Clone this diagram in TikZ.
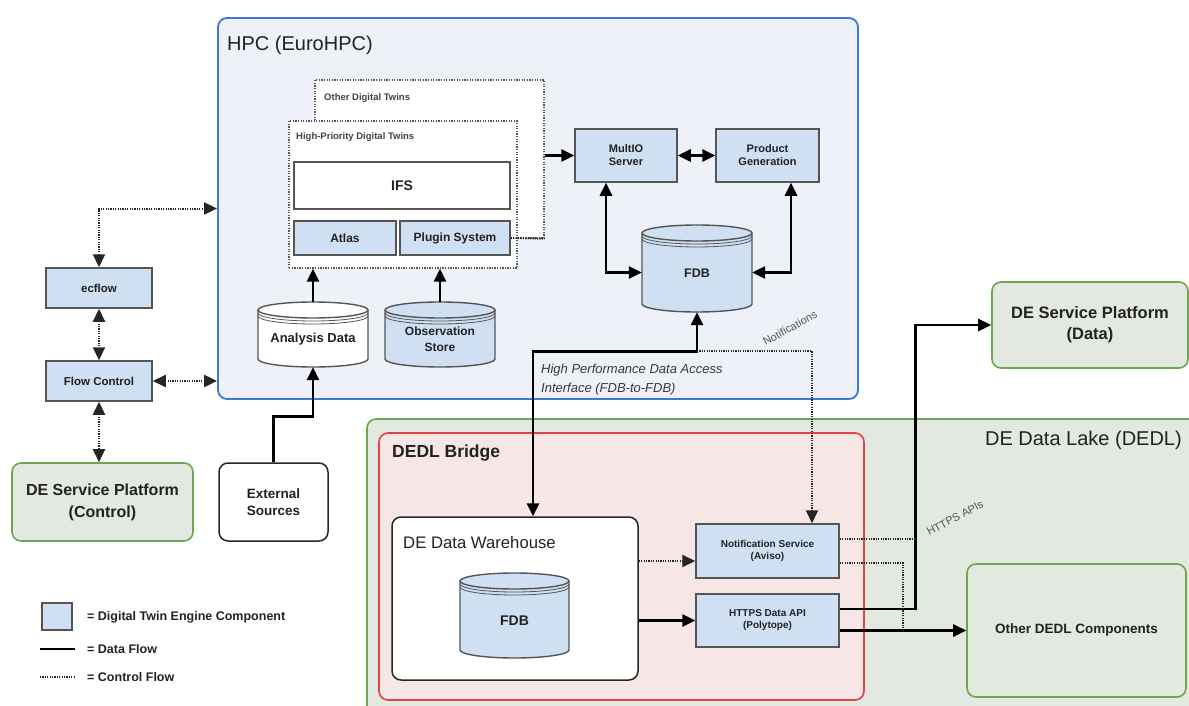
\documentclass[tikz,border=0pt]{standalone}
\usepackage{fontspec}
\setmainfont{Liberation Sans}
\usetikzlibrary{arrows.meta}
\definecolor{hpcfill}{HTML}{EEF1F8}
\definecolor{hpcline}{HTML}{3C78D8}
\definecolor{lakefill}{HTML}{E3E8E1}
\definecolor{greenline}{HTML}{6AA84F}
\definecolor{bridgefill}{HTML}{F7E6E6}
\definecolor{bridgeline}{HTML}{DD4444}
\definecolor{compfill}{HTML}{CFE0F3}
\definecolor{compline}{HTML}{555555}
\definecolor{txt}{HTML}{222222}
\definecolor{labgrey}{HTML}{555555}
\newcommand\fsz[2]{\fontsize{#1}{#2}\selectfont}
% #1 name, #2 left, #3 top, #4 right, #5 bottom, #6 fill, #7 text, #8 font
\newcommand\dbcyl[8]{%
  \pgfmathsetmacro\cylrx{(#4-#2)/2}%
  \pgfmathsetmacro\cylcx{(#2+#4)/2}%
  \pgfmathsetmacro\cylcy{(#3+#5)/2}%
  \pgfmathsetmacro\cylw{#4-#2}%
  \pgfmathsetmacro\cylh{#5-#3}%
  \path[fill=#6] (#2,#3+8) -- (#2,#5-8) arc[start angle=180,end angle=360,x radius=\cylrx pt,y radius=8pt] -- (#4,#3+8) arc[start angle=0,end angle=180,x radius=\cylrx pt,y radius=8pt] -- cycle;
  \draw[cylline] (#2,#3+8) -- (#2,#5-8) arc[start angle=180,end angle=360,x radius=\cylrx pt,y radius=8pt] -- (#4,#3+8);
  \draw[cylline] (\cylcx,#3+8) ellipse[x radius=\cylrx pt,y radius=8pt];
  \draw[cylrim] (#2,#3+11) arc[start angle=180,end angle=360,x radius=\cylrx pt,y radius=8pt];
  \draw[cylrim] (#2,#3+14) arc[start angle=180,end angle=360,x radius=\cylrx pt,y radius=8pt];
  \node[inner sep=0,minimum width=\cylw,minimum height=\cylh] (#1) at (\cylcx,\cylcy) {};
  \node[cyltext, font=#8] (#1-t) at (\cylcx,\cylcy+5) {#7};
}
\begin{document}
\begin{tikzpicture}[x=1pt,y=-1pt,
  >={Triangle[length=13pt,width=12pt]},
  comp/.style={draw=compline, fill=compfill, line width=1.5pt, inner sep=0, align=center, text=txt, font=\bfseries\fsz{10}{12}},
  whitebox/.style={draw=compline, fill=white, line width=1.5pt, inner sep=0, align=center, text=txt},
  dotbox/.style={draw=compline, fill=white, line width=1.3pt, dash pattern=on 1.3pt off 1.3pt, inner sep=0},
  greenbox/.style={draw=greenline, fill=lakefill, line width=1.6pt, rounded corners=9pt, inner sep=0, align=center, text=txt},
  title/.style={inner sep=0, anchor=west, text=txt},
  smalllab/.style={inner sep=0, anchor=west, text=txt!85, font=\bfseries\fsz{9.5}{11}},
  cylline/.style={draw=compline, line width=1.4pt},
  cylrim/.style={draw=compline, line width=0.8pt},
  cyltext/.style={inner sep=0, align=center, text=txt},
  data/.style={line width=2.6pt, draw=black},
  ctrl/.style={line width=2pt, draw=black!85, dash pattern=on 1.2pt off 1.2pt},
  rotlab/.style={inner sep=0, text=labgrey, font=\fsz{11}{13}}
]
\useasboundingbox (0,0) rectangle (1189,706);
\clip (0,0) rectangle (1189,706);

% ---------- HPC region ----------
\node[draw=hpcline, fill=hpcfill, line width=1.8pt, rounded corners=9pt, inner sep=0,
      minimum width=640, minimum height=381] (hpc) at (538,208.5) {};
\node[title, font=\fsz{20}{24}] (hpct) at (227,45) {HPC (EuroHPC)};

\node[dotbox, minimum width=229, minimum height=158] (otherdt) at (429.5,159) {};
\node[smalllab] (otherdtt) at (324,98) {Other Digital Twins};
\node[dotbox, minimum width=228, minimum height=147] (hpdt) at (403,194.5) {};
\node[smalllab] (hpdtt) at (296,137) {High-Priority Digital Twins};

\node[whitebox, minimum width=216, minimum height=47, font=\bfseries\fsz{14}{16}] (ifs) at (402,185.5) {IFS};
\node[comp, minimum width=102, minimum height=34, font=\bfseries\fsz{12}{14}] (atlas) at (345,238) {Atlas};
\node[comp, minimum width=110, minimum height=34, font=\bfseries\fsz{12}{14}] (plugin) at (455,238) {Plugin System};

\node[comp, minimum width=102, minimum height=53, font=\bfseries\fsz{11}{13}] (multio) at (626,155.5) {MultIO\\Server};
\node[comp, minimum width=103, minimum height=53, font=\bfseries\fsz{11}{13}] (prodgen) at (767.5,155.5) {Product\\Generation};

\dbcyl{anadata}{258}{302}{368}{367}{white}{Analysis Data}{\bfseries\fsz{13}{15}}
\dbcyl{obsstore}{385}{302}{495}{367}{compfill}{Observation\\Store}{\bfseries\fsz{12}{16}}
\dbcyl{fdb1}{642}{225}{752}{312}{compfill}{FDB}{\bfseries\fsz{12.5}{15}}

% ---------- left column ----------
\node[comp, minimum width=106, minimum height=40, font=\bfseries\fsz{11.5}{13}] (ecflow) at (99,288) {ecflow};
\node[comp, minimum width=106, minimum height=40, font=\bfseries\fsz{11.5}{13}] (flowctl) at (99,381) {Flow Control};
\node[greenbox, minimum width=181, minimum height=78, font=\bfseries\fsz{16}{22}] (despctl) at (102.5,502) {DE Service Platform\\(Control)};
\node[whitebox, draw=black!85, rounded corners=9pt, minimum width=109, minimum height=78, font=\bfseries\fsz{13.5}{17}] (extsrc) at (273.5,502) {External\\Sources};

% ---------- DEDL ----------
\node[draw=greenline, fill=lakefill, line width=1.6pt, rounded corners=9pt, inner sep=0,
      minimum width=840, minimum height=310] (dedl) at (787,574) {};
\node[inner sep=0, anchor=east, text=txt, font=\fsz{20}{24}] (dedlt) at (1182,440) {DE Data Lake (DEDL)};
\node[draw=bridgeline, fill=bridgefill, line width=1.6pt, rounded corners=9pt, inner sep=0,
      minimum width=485, minimum height=267] (bridge) at (621.5,566.5) {};
\node[title, font=\bfseries\fsz{17.5}{20}] (bridget) at (392,453) {DEDL Bridge};
\node[draw=black!85, fill=white, line width=1.5pt, rounded corners=9pt, inner sep=0,
      minimum width=246, minimum height=163] (dw) at (515,598.5) {};
\node[title, font=\fsz{16.7}{20}] (dwt) at (403,543) {DE Data Warehouse};
\dbcyl{fdb2}{460}{573}{569}{658}{compfill}{FDB}{\bfseries\fsz{14}{16}}

\node[comp, minimum width=143, minimum height=54] (aviso) at (767.5,551) {Notification Service\\(Aviso)};
\node[comp, minimum width=143, minimum height=53] (polytope) at (767.5,620.5) {HTTPS Data API\\(Polytope)};

\node[greenbox, minimum width=196, minimum height=86, font=\bfseries\fsz{16.5}{21}] (despdata) at (1090,325) {DE Service Platform\\(Data)};
\node[greenbox, minimum width=219, minimum height=133, font=\bfseries\fsz{13.5}{16}] (otherdedl) at (1076.5,630.5) {Other DEDL Components};

% ---------- data connectors ----------
\draw[data,->] (anadata.north) -- (anadata.north |- hpdt.south);
\draw[data,->] (obsstore.north) -- (obsstore.north |- hpdt.south);
\draw[data,->] (extsrc.north) -- ++(0,-46) -| (anadata.south);
\draw[data,->] (otherdt.east |- multio.west) -- (multio.west);
\draw[data,<->] (multio.east) -- (prodgen.west);
\draw[data,<->] ([xshift=-20pt]multio.south) |- ([yshift=-4pt]fdb1.west);
\draw[data,<->] ([xshift=23.5pt]prodgen.south) |- ([yshift=-4pt]fdb1.east);
\path (fdb1.south) ++(0,39) coordinate (hpdai);
\draw[data,<->] (fdb1.south) -- (hpdai) -| ([xshift=18pt]dw.north);
\draw[data,->] (dw.east |- polytope.west) -- (polytope.west);
\draw[data,->] ([yshift=11.5pt]polytope.east) -- ++(76,0) |- (despdata.west);
\draw[data,->] ([yshift=-10pt]polytope.east) -- (otherdedl.west);

% ---------- control connectors ----------
\draw[ctrl,<->] (ecflow.north) |- (hpc.west);
\draw[ctrl,<->] (ecflow.south) -- (flowctl.north);
\draw[ctrl,<->] (flowctl.east) -- (hpc.west |- flowctl.east);
\draw[ctrl,<->] (flowctl.south) -- (flowctl.south |- despctl.north);
\draw[ctrl] (plugin.east) -- (otherdt.south east);
\draw[ctrl,->] (hpdai) -| ([xshift=44.5pt]aviso.north);
\draw[ctrl,->] (dw.east |- 0,561) -- ([yshift=-10pt]aviso.west);
\draw[ctrl] ([yshift=12pt]aviso.east) -- ++(76,0);
\draw[ctrl] ([yshift=-12pt]aviso.east) -- ++(63,0) -- ++(0,67);

% ---------- labels ----------
\node[inner sep=0, anchor=west, align=left, text=txt!90, font=\itshape\fsz{13}{19}] (hpdail) at (541,380)
  {High Performance Data Access\\Interface (FDB-to-FDB)};
\node[rotlab, rotate=29] (notif) at (790,328) {Notifications};
\node[rotlab, rotate=28] (httpsapi) at (955,518) {HTTPS APIs};

% ---------- legend ----------
\node[comp, minimum width=30, minimum height=27] (legcomp) at (57,616.5) {};
\node[title, font=\bfseries\fsz{12.5}{15}] (legcompt) at (87,617) {= Digital Twin Engine Component};
\coordinate (lda) at (40,649); \coordinate (ldb) at (75,649);
\draw[data] (lda) -- (ldb);
\node[title, font=\bfseries\fsz{12.5}{15}] (legdatat) at (87,649) {= Data Flow};
\coordinate (lca) at (40,677); \coordinate (lcb) at (75,677);
\draw[ctrl] (lca) -- (lcb);
\node[title, font=\bfseries\fsz{12.5}{15}] (legctrlt) at (87,677) {= Control Flow};
\end{tikzpicture}
\end{document}
